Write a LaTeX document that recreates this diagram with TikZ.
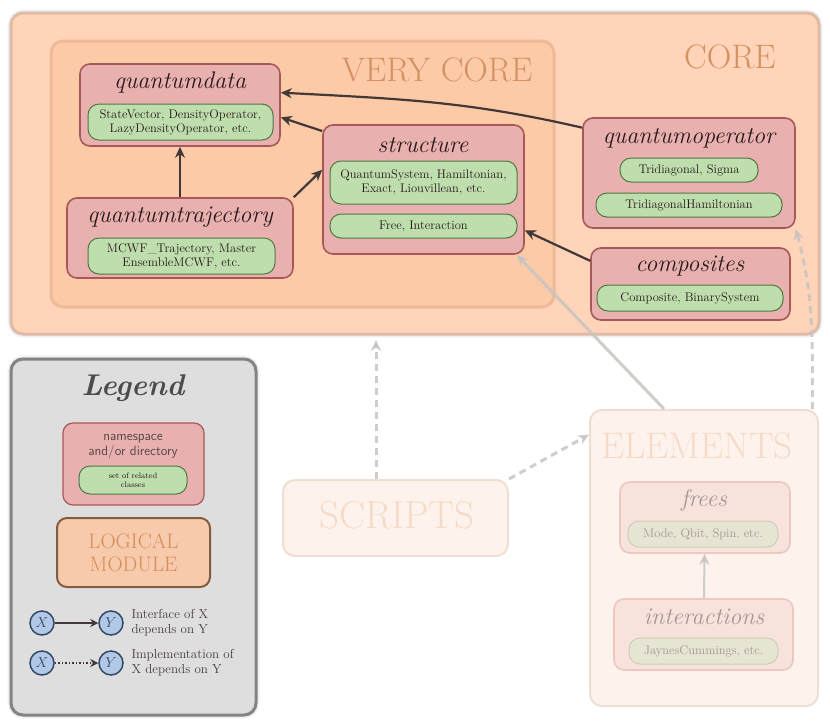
\documentclass[tikz,border=0pt]{standalone}
\usepackage{tikz}
\usetikzlibrary{arrows.meta,shadows.blur}

\definecolor{corefill}{RGB}{255,212,184}
\definecolor{verycorefill}{RGB}{253,202,168}
\definecolor{coreedge}{RGB}{215,170,145}
\definecolor{verycoreedge}{RGB}{232,178,142}
\definecolor{corelabel}{RGB}{212,145,100}
\definecolor{nsfill}{RGB}{232,176,174}
\definecolor{nsedge}{RGB}{168,88,88}
\definecolor{clsfill}{RGB}{190,222,174}
\definecolor{clsedge}{RGB}{78,122,64}
\definecolor{textdark}{RGB}{40,25,25}
\definecolor{deparrow}{RGB}{66,56,56}
\definecolor{fadearrow}{RGB}{200,196,194}
\definecolor{fadefill}{RGB}{253,243,236}
\definecolor{fadeedge}{RGB}{240,222,210}
\definecolor{fadensfill}{RGB}{248,226,220}
\definecolor{fadensedge}{RGB}{236,200,192}
\definecolor{fadeclsfill}{RGB}{230,228,210}
\definecolor{fadeclsedge}{RGB}{205,205,185}
\definecolor{fadetext}{RGB}{165,150,148}
\definecolor{fadelabel}{RGB}{246,218,200}
\definecolor{legendfill}{RGB}{222,222,222}
\definecolor{legendedge}{RGB}{110,110,110}
\definecolor{modfill}{RGB}{247,202,172}
\definecolor{modedge}{RGB}{130,92,62}
\definecolor{modtext}{RGB}{215,140,92}
\definecolor{varfill}{RGB}{178,200,232}
\definecolor{varedge}{RGB}{52,72,100}

\tikzset{>={Stealth[length=11pt,width=10pt]},
  halo/.style={blur shadow={shadow xshift=0pt,shadow yshift=0pt,shadow blur radius=4pt,shadow opacity=35}},
  corebox/.style={rounded corners=12pt, draw=coreedge, draw opacity=0.6, line width=3pt, fill=corefill, halo},
  verycorebox/.style={rounded corners=12pt, draw=verycoreedge, draw opacity=0.7, line width=3pt, fill=verycorefill},
  fadebox/.style={rounded corners=12pt, draw=fadeedge, line width=2pt, fill=fadefill},
  caps/.style={text=corelabel, font=\fontsize{34}{36}\selectfont},
  fadecaps/.style={text=fadelabel, font=\fontsize{39}{41}\selectfont},
  nsbox/.style={rounded corners=10pt, draw=nsedge, line width=1.6pt, fill=nsfill},
  fadensbox/.style={rounded corners=10pt, draw=fadensedge, line width=1.6pt, fill=fadensfill},
  nstitle/.style={text=textdark, font=\fontsize{24}{26}\selectfont\itshape},
  fadetitle/.style={text=fadetext, font=\fontsize{24}{26}\selectfont\itshape},
  clsbox/.style={rounded corners=11pt, draw=clsedge, line width=1pt, fill=clsfill, align=center,
    text=textdark, inner sep=1pt, font=\fontsize{12.5}{14}\selectfont},
  fadeclsbox/.style={clsbox, draw=fadeclsedge, fill=fadeclsfill, text=fadetext},
  dep/.style={->, line width=2.2pt, draw=deparrow},
  fadedep/.style={->, line width=3pt, draw=fadearrow, opacity=0.85},
  fadeimpl/.style={fadedep, dash pattern=on 7pt off 5pt},
  var/.style={circle, draw=varedge, line width=1.5pt, fill=varfill, minimum size=24pt, inner sep=0pt,
    text=varedge, font=\Large},
  legtext/.style={anchor=west, align=left, text=textdark!85, font=\fontsize{13}{15}\selectfont}}

\begin{document}
\begin{tikzpicture}[x=1pt,y=-1pt]
  \useasboundingbox (0,0) rectangle (830,724);

  % core and very core
  \node[corebox, minimum width=808, minimum height=321] (core) at (415,173.5) {};
  \node[caps] (corelbl) at (730,57) {CORE};
  \node[verycorebox, minimum width=503, minimum height=266] (verycore) at (302.5,174) {};
  \node[caps] (verycorelbl) at (437,70) {VERY CORE};

  \node[nsbox, minimum width=200, minimum height=82] (qdata) at (180,105) {};
  \node[nstitle] (qdata-t) at (180,82) {quantumdata};
  \node[clsbox, minimum width=185, minimum height=36] (qdata-c) at (180.5,122) {StateVector, DensityOperator,\\LazyDensityOperator, etc.};

  \node[nsbox, minimum width=226, minimum height=80] (qtraj) at (180,238) {};
  \node[nstitle] (qtraj-t) at (180,217) {quantumtrajectory};
  \node[clsbox, minimum width=187, minimum height=36] (qtraj-c) at (181.5,256) {MCWF\_Trajectory, Master\\EnsembleMCWF, etc.};

  \node[nsbox, minimum width=201, minimum height=129] (struct) at (423.5,189.5) {};
  \node[nstitle] (struct-t) at (423,145) {structure};
  \node[clsbox, minimum width=187, minimum height=43] (struct-c1) at (423.5,182.5) {QuantumSystem, Hamiltonian,\\Exact, Liouvillean, etc.};
  \node[clsbox, minimum width=187, minimum height=24] (struct-c2) at (423.5,226) {Free, Interaction};

  \node[nsbox, minimum width=212, minimum height=110] (qop) at (689,173) {};
  \node[nstitle] (qop-t) at (689,138) {quantumoperator};
  \node[clsbox, minimum width=138, minimum height=24] (qop-c1) at (689,170) {Tridiagonal, Sigma};
  \node[clsbox, minimum width=186, minimum height=24] (qop-c2) at (689,205) {TridiagonalHamiltonian};

  \node[nsbox, minimum width=199, minimum height=72] (comp) at (690.5,284) {};
  \node[nstitle] (comp-t) at (690,266) {composites};
  \node[clsbox, minimum width=186, minimum height=26] (comp-c) at (690,298) {Composite, BinarySystem};

  % faded part
  \node[fadebox, minimum width=225, minimum height=76] (scripts) at (395.5,518) {};
  \node[fadecaps] (scriptslbl) at (397,515) {SCRIPTS};

  \node[fadebox, minimum width=228, minimum height=296] (elems) at (704,558) {};
  \node[fadecaps, font=\fontsize{37}{39}\selectfont] (elemslbl) at (697,446) {ELEMENTS};

  \node[fadensbox, minimum width=170, minimum height=71] (frees) at (705,517.5) {};
  \node[fadetitle] (frees-t) at (704,500) {frees};
  \node[fadeclsbox, minimum width=150, minimum height=26] (frees-c) at (703,534) {Mode, Qbit, Spin, etc.};

  \node[fadensbox, minimum width=179, minimum height=71] (inter) at (703.5,634.5) {};
  \node[fadetitle] (inter-t) at (704,617) {interactions};
  \node[fadeclsbox, minimum width=149, minimum height=26] (inter-c) at (703.5,651) {JaynesCummings, etc.};

  % dependencies
  \draw[dep] (qop.157) to[out=167,in=-3] (qdata.7);
  \draw[dep] (struct.150) -- (qdata.-7);
  \draw[dep] (qtraj.north) -- (qdata.south);
  \draw[dep] (qtraj.north east) -- (struct.169);
  \draw[dep] (comp.167.5) -- (struct.-22);

  \coordinate (coretip) at (376,340);
  \draw[fadedep] (elems.105.5) -- (struct.-35);
  \draw[fadeimpl] (scripts.north -| coretip) -- (coretip);
  \draw[fadeimpl] (scripts.north east) -- (elems.133);
  \draw[fadeimpl] (elems.54.4) to[out=90,in=-75] (qop.south east);
  \draw[fadedep, line width=2pt] (inter) -- (frees);

  % legend
  \node[rounded corners=12pt, draw=legendedge, draw opacity=0.8, line width=3pt, fill=legendfill, halo,
    minimum width=245, minimum height=356] (legend) at (133.5,537) {};
  \node[text=black!70, font=\fontsize{30}{32}\selectfont\bfseries\itshape] (legend-t) at (133,388) {Legend};
  \node[nsbox, line width=1.2pt, minimum width=141, minimum height=82] (leg-ns) at (133.5,464) {};
  \node[align=center, text=textdark!80, font=\sffamily\fontsize{13.5}{15}\selectfont] (leg-ns-t) at (133,447) {namespace\\and/or directory};
  \node[clsbox, minimum width=108, minimum height=28, font=\fontsize{8}{9}\selectfont] (leg-cls) at (133,480) {set of related\\classes};
  \node[rounded corners=10pt, draw=modedge, line width=2pt, fill=modfill, minimum width=153, minimum height=69,
    align=center, text=modtext, font=\fontsize{21}{23}\selectfont] (leg-mod) at (133.5,552.5) {LOGICAL\\MODULE};

  \node[var] (x1) at (42,623) {$X$};
  \node[var] (y1) at (111,623) {$Y$};
  \node[var] (x2) at (42,663) {$X$};
  \node[var] (y2) at (111,663) {$Y$};
  \draw[dep, line width=1.5pt, >={Stealth[length=8pt,width=8pt]}] (x1) -- (y1);
  \draw[dep, line width=1.5pt, dotted, >={Stealth[length=8pt,width=8pt]}] (x2) -- (y2);
  \node[legtext] (leg-if) at (128,623) {Interface of X\\depends on Y};
  \node[legtext] (leg-impl) at (128,663) {Implementation of\\X depends on Y};

\end{tikzpicture}
\end{document}
